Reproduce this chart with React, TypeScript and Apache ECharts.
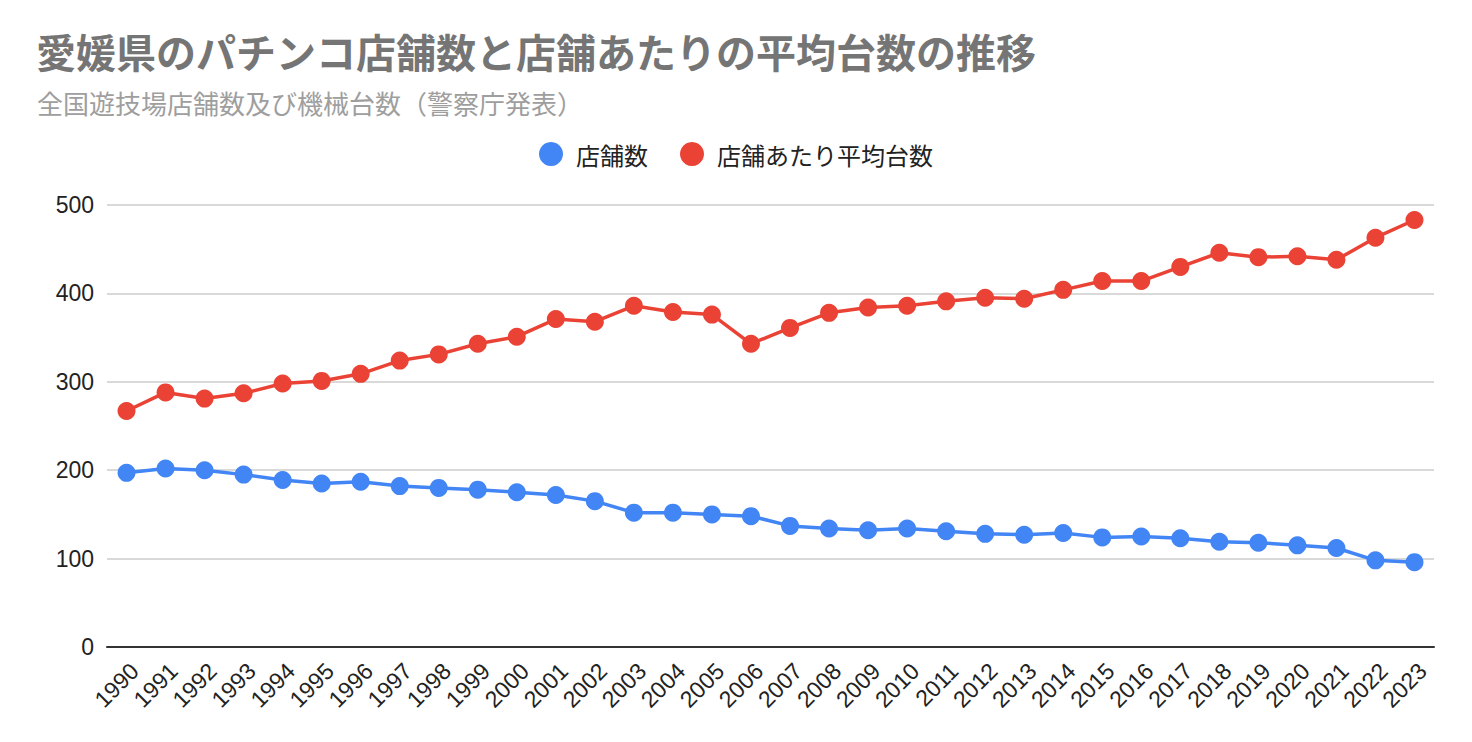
import React, { useEffect, useRef } from "react";
import * as echarts from "echarts";

const years = [
  "1990", "1991", "1992", "1993", "1994", "1995", "1996", "1997", "1998", "1999",
  "2000", "2001", "2002", "2003", "2004", "2005", "2006", "2007", "2008", "2009",
  "2010", "2011", "2012", "2013", "2014", "2015", "2016", "2017", "2018", "2019",
  "2020", "2021", "2022", "2023",
];

const storeCounts = [
  197, 202, 200, 195, 189, 185, 187, 182, 180, 178,
  175, 172, 165, 152, 152, 150, 148, 137, 134, 132,
  134, 131, 128, 127, 129, 124, 125, 123, 119, 118,
  115, 112, 98, 96,
];

const avgMachines = [
  267, 288, 281, 287, 298, 301, 309, 324, 331, 343,
  351, 371, 368, 386, 379, 376, 343, 361, 378, 384,
  386, 391, 395, 394, 404, 414, 414, 430, 446, 441,
  442, 438, 463, 483,
];

const yTicks = { min: 0, max: 500, interval: 100 };

const titleText = "愛媛県のパチンコ店舗数と店舗あたりの平均台数の推移";
const subtitleText = "全国遊技場店舗数及び機械台数（警察庁発表）";
const seriesNames = ["店舗数", "店舗あたり平均台数"];

const CJK = "'Noto Sans CJK JP', 'Noto Sans', sans-serif";
const LATIN = "'Liberation Sans', Arial, 'Noto Sans CJK JP', sans-serif";

export default function App() {
  const ref = useRef<HTMLDivElement>(null);
  useEffect(() => {
    document.body.style.margin = "0";
    if (!ref.current) return;
    const chart = echarts.init(ref.current, undefined, { renderer: "svg" });
    chart.setOption({
      animation: false,
      backgroundColor: "#ffffff",
      title: [
        {
          text: titleText,
          left: 36,
          top: 31,
          padding: 0,
          textStyle: { fontFamily: CJK, fontSize: 40, fontWeight: "bold", color: "#757575" },
        },
        {
          text: subtitleText,
          left: 37,
          top: 89,
          padding: 0,
          textStyle: { fontFamily: CJK, fontSize: 26, fontWeight: "normal", color: "#9e9e9e" },
        },
      ],
      legend: {
        top: 142,
        left: "center",
        padding: 0,
        icon: "circle",
        itemWidth: 24,
        itemHeight: 24,
        itemGap: 32,
        textStyle: { fontFamily: CJK, fontSize: 24, color: "#222222", padding: [0, 0, 0, 8] },
        data: seriesNames,
      },
      grid: { left: 107, right: 38, top: 205, bottom: 95, containLabel: false },
      xAxis: {
        type: "category",
        data: years,
        boundaryGap: true,
        axisLine: { show: true, lineStyle: { color: "#333333", width: 2 } },
        axisTick: { show: false },
        axisLabel: {
          rotate: 45,
          interval: 0,
          fontFamily: LATIN,
          fontSize: 23,
          color: "#222222",
          margin: 12,
          verticalAlign: "top",
        },
      },
      yAxis: {
        type: "value",
        min: yTicks.min,
        max: yTicks.max,
        interval: yTicks.interval,
        axisLine: { show: false },
        axisTick: { show: false },
        splitLine: { lineStyle: { color: "#cccccc", width: 1.5 } },
        axisLabel: { fontFamily: LATIN, fontSize: 23, color: "#222222", margin: 13 },
      },
      series: [
        {
          name: seriesNames[0],
          type: "line",
          data: storeCounts,
          symbol: "circle",
          symbolSize: 18,
          itemStyle: { color: "#4285f4" },
          lineStyle: { color: "#4285f4", width: 3.5 },
        },
        {
          name: seriesNames[1],
          type: "line",
          data: avgMachines,
          symbol: "circle",
          symbolSize: 18,
          itemStyle: { color: "#ea4335" },
          lineStyle: { color: "#ea4335", width: 3.5 },
        },
      ],
    });
    return () => chart.dispose();
  }, []);
  return <div ref={ref} style={{ width: 1472, height: 742 }} />;
}
